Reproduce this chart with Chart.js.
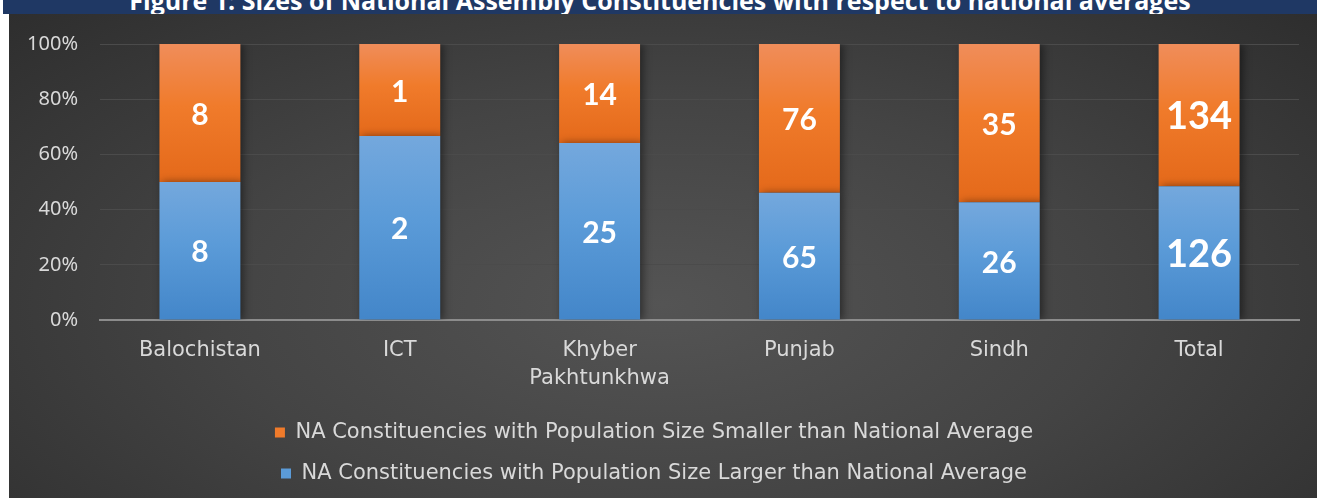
<!DOCTYPE html>
<html>
<head>
<meta charset="utf-8">
<script src="https://cdn.jsdelivr.net/npm/chart.js@4"></script>
<style>
  body { margin: 0; background: #fff; width: 1317px; height: 498px; overflow: hidden; position: relative; }
  #titlebar {
    position: absolute; left: 3px; top: 0; width: 1314px; height: 14px;
    background: #1f3864; overflow: hidden;
  }
  #titlebar span {
    position: absolute; left: 0; right: 0; top: -17px; text-align: center;
    color: #fff; font: bold 25px "Open Sans", "DejaVu Sans", sans-serif; white-space: nowrap;
  }
  #wrap {
    position: absolute; left: 9px; top: 14px; width: 1308px; height: 484px;
    background: radial-gradient(ellipse 75% 95% at 50% 60%, #545454 0%, #444 45%, #2a2a2a 100%);
  }
</style>
</head>
<body>
<div id="titlebar"><span>Figure 1: Sizes of National Assembly Constituencies with respect to national averages</span></div>
<div id="wrap"><canvas id="chart" width="1308" height="484"></canvas></div>
<script>
const categories = ["Balochistan", "ICT", ["Khyber", "Pakhtunkhwa"], "Punjab", "Sindh", "Total"];
const largerCounts = [8, 2, 25, 65, 26, 126];
const smallerCounts = [8, 1, 14, 76, 35, 134];
const yTicks = [0, 20, 40, 60, 80, 100];

const largerPct = largerCounts.map((v, i) => v / (v + smallerCounts[i]) * 100);
const smallerPct = smallerCounts.map((v, i) => v / (v + largerCounts[i]) * 100);

// vertical gradient per bar segment
function segGradient(top, mid, bottom, isUpper) {
  return function (ctx) {
    const chart = ctx.chart;
    if (!chart.chartArea || ctx.type !== "data") return mid;
    const y = chart.scales.y;
    const p = largerPct[ctx.dataIndex];
    const y0 = isUpper ? y.getPixelForValue(100) : y.getPixelForValue(p);
    const y1 = isUpper ? y.getPixelForValue(p) : y.getPixelForValue(0);
    const g = chart.ctx.createLinearGradient(0, y0, 0, y1);
    g.addColorStop(0, top);
    g.addColorStop(0.45, mid);
    g.addColorStop(1, bottom);
    return g;
  };
}

const barShadow = {
  id: "barShadow",
  beforeDatasetDraw(chart) {
    const c = chart.ctx;
    c.save();
    c.shadowColor = "rgba(0,0,0,0.45)";
    c.shadowBlur = 8;
    c.shadowOffsetX = 3;
    c.shadowOffsetY = 0;
  },
  afterDatasetDraw(chart) {
    chart.ctx.restore();
  }
};

const countLabels = {
  id: "countLabels",
  afterDatasetsDraw(chart) {
    const c = chart.ctx;
    const counts = [largerCounts, smallerCounts];
    c.save();
    c.fillStyle = "#ffffff";
    c.textAlign = "center";
    c.textBaseline = "middle";
    chart.data.datasets.forEach((ds, di) => {
      chart.getDatasetMeta(di).data.forEach((bar, i) => {
        const size = i === counts[di].length - 1 ? 38 : 30;
        c.font = "bold " + size + "px Lato, 'Open Sans', sans-serif";
        c.fillText(String(counts[di][i]), bar.x, (bar.y + bar.base) / 2 + 2);
      });
    });
    c.restore();
  }
};

const labelFont = "'DejaVu Sans', sans-serif";

new Chart(document.getElementById("chart").getContext("2d"), {
  type: "bar",
  data: {
    labels: categories,
    datasets: [
      {
        label: "NA Constituencies with Population Size Larger than National Average",
        data: largerPct,
        backgroundColor: segGradient("#74a8dd", "#5b9bd8", "#4386c9", false),
        borderWidth: 0,
        categoryPercentage: 1,
        barPercentage: 0.405
      },
      {
        label: "NA Constituencies with Population Size Smaller than National Average",
        data: smallerPct,
        backgroundColor: segGradient("#f08d5a", "#f07b2b", "#e4691a", true),
        borderWidth: 0,
        categoryPercentage: 1,
        barPercentage: 0.405
      }
    ]
  },
  options: {
    responsive: false,
    animation: false,
    layout: { padding: { left: 0, right: 18, top: 30, bottom: 4 } },
    plugins: {
      tooltip: { enabled: false },
      legend: {
        display: true,
        position: "bottom",
        reverse: true,
        labels: {
          color: "#d9d9d9",
          boxWidth: 10,
          boxHeight: 10,
          padding: 20,
          font: { family: labelFont, size: 21 },
          generateLabels(chart) {
            const cols = ["#5b9bd8", "#f07b2b"];
            return chart.data.datasets.map((ds, i) => ({
              text: ds.label, fillStyle: cols[i], strokeStyle: cols[i], lineWidth: 0,
              fontColor: "#d9d9d9", datasetIndex: i
            }));
          }
        }
      }
    },
    scales: {
      x: {
        stacked: true,
        grid: { display: false, drawTicks: false },
        border: { display: true, color: "#8c8c8c", width: 2 },
        ticks: {
          color: "#d9d9d9",
          padding: 16,
          maxRotation: 0,
          font: { family: labelFont, size: 21, lineHeight: 1.35 }
        },
        afterFit(scale) { scale.height = 82; }
      },
      y: {
        stacked: true,
        min: 0,
        max: 100,
        afterBuildTicks(scale) { scale.ticks = yTicks.map(v => ({ value: v })); },
        grid: {
          drawTicks: false,
          color: ctx => (ctx.tick && ctx.tick.value === 0 ? "rgba(0,0,0,0)" : "#4b4b4b"),
          lineWidth: 1
        },
        border: { display: false },
        ticks: {
          color: "#d9d9d9",
          padding: 22,
          font: { family: "'Noto Sans', sans-serif", size: 20, lineHeight: 0.75 },
          callback: v => v + "%"
        },
        afterFit(scale) { scale.width = 91; }
      }
    }
  },
  plugins: [barShadow, countLabels]
});
</script>
</body>
</html>
